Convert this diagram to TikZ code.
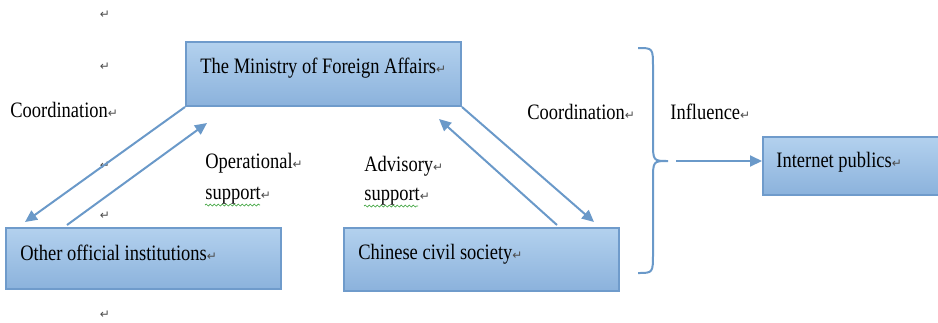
\documentclass[tikz,border=0pt]{standalone}
\usepackage{fontspec}
\setmainfont{Liberation Serif}[FakeStretch=0.84]
\newfontfamily\markfont{DejaVu Sans}
\usetikzlibrary{arrows.meta,calc,decorations.pathmorphing}
\definecolor{boxtop}{HTML}{B3D1EE}
\definecolor{boxbot}{HTML}{8BB2DC}
\definecolor{boxedge}{HTML}{6F9BCB}
\definecolor{linkblue}{HTML}{6A99C9}
\definecolor{spellgreen}{HTML}{3FA33F}
% paragraph mark after each line
\newcommand{\pmark}{{\markfont\fontsize{6}{6}\selectfont\textcolor{black!70}{↵}}}
\tikzset{
    box/.style={
        rectangle,
        draw=boxedge, line width=1pt,
        top color=boxtop, bottom color=boxbot,
        anchor=north west, inner sep=0
    },
    txt/.style={anchor=base west, inner sep=0, font={\fontsize{11}{12}\selectfont}},
    pm/.style={inner sep=0},
    link/.style={draw=linkblue, line width=1pt, -{Triangle[length=6pt,width=5.5pt]}},
    squiggle/.style={draw=spellgreen, line width=0.35pt, decorate,
        decoration={snake, amplitude=0.5pt, segment length=2pt}},
}
\begin{document}
\begin{tikzpicture}[x=0.5pt, y=-0.5pt]
    \useasboundingbox (0,0) rectangle (938,322);

    % boxes
    \node [box, minimum width=137.5pt, minimum height=32pt] (mfa) at (185,41) {};
    \node [box, minimum width=137.5pt, minimum height=30.5pt] (other) at (5,227) {};
    \node [box, minimum width=137.5pt, minimum height=31.5pt] (civil) at (343,227) {};
    \node [box, minimum width=89pt, minimum height=29pt] (pub) at (762,136) {};

    \node [txt] (mfa-t) at (200,73) {The Ministry of Foreign Affairs\pmark};
    \node [txt] (other-t) at (20,260) {Other official institutions\pmark};
    \node [txt] (civil-t) at (358,259) {Chinese civil society\pmark};
    \node [txt] (pub-t) at (776,167) {Internet publics\pmark};

    % labels
    \node [txt] (coord-l) at (10,117) {Coordination\pmark};
    \node [txt] (op1) at (205,168) {Operational\pmark};
    \node [txt] (op2) at (205,199) {support\pmark};
    \node [txt] (adv1) at (364,171) {Advisory\pmark};
    \node [txt] (adv2) at (364,200) {support\pmark};
    \node [txt] (coord-r) at (527,119) {Coordination\pmark};
    \node [txt] (infl) at (670,119) {Influence\pmark};

    % stray paragraph marks
    \foreach \y in {15,67,166,216,315}
        \node [pm] (pm\y) at (105,\y) {\pmark};

    % spelling underline
    \path [squiggle] ($(op2.base west)+(0,6)$) -- ($(op2.base west)+(55,6)$);
    \path [squiggle] ($(adv2.base west)+(0,6)$) -- ($(adv2.base west)+(54,6)$);

    % links
    \draw [link] (mfa.south west) -- ($(other.north west)+(20,-5)$);
    \draw [link] ($(other.north west)+(62,-2)$) -- ($(mfa.south west)+(22,16)$);
    \draw [link] ($(civil.north west)+(214,-2)$) -- ($(mfa.south east)+(-23,12)$);
    \draw [link] (mfa.south east) -- ($(civil.north west)+(251,-5)$);

    % brace
    \coordinate (bt) at (668,161);
    \draw [linkblue, line width=1pt]
        (638,48) .. controls (653,48) .. (653,68) -- (653,141)
        .. controls (653,161) .. (bt)
        .. controls (653,161) .. (653,181) -- (653,253)
        .. controls (653,273) .. (638,273);
    \draw [link] ($(bt)+(8,0)$) -- (pub.west |- bt);
\end{tikzpicture}
\end{document}
